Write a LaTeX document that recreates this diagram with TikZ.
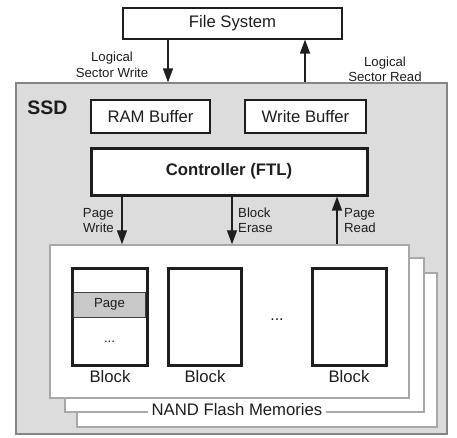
\documentclass[tikz,border=0pt]{standalone}
\usepackage{fontspec}
\setmainfont{Liberation Sans}
\usetikzlibrary{arrows.meta}
\definecolor{ink}{HTML}{1E1E1E}
\definecolor{ssdfill}{HTML}{DCDCDD}
\definecolor{ssdline}{HTML}{858585}
\definecolor{boardline}{HTML}{A8A8A8}
\definecolor{pagefill}{HTML}{C8C8C8}
\tikzset{
  big/.style={font=\fontsize{16.7}{19}\selectfont, text=ink},
  small/.style={font=\fontsize{13.2}{15.5}\selectfont, text=ink, align=center, inner sep=0pt},
  plainbox/.style={draw=ink, line width=1.1pt, fill=white, big, inner sep=0pt},
  board/.style={draw=boardline, line width=1.5pt, fill=white, inner sep=0pt},
  blockbox/.style={draw=ink, line width=3pt, fill=white, inner sep=0pt},
  arr/.style={draw=ink, line width=1.4pt, -{Triangle[length=14pt,width=10pt]}},
}
\begin{document}
\begin{tikzpicture}[x=1pt,y=-1pt]
\useasboundingbox (0,0) rectangle (457,437);
% SSD container
\node[draw=ssdline, line width=1.2pt, fill=ssdfill, minimum width=431pt, minimum height=351pt, inner sep=0pt] (ssd) at (231.5,258.5) {};
\node[font=\fontsize{19.5}{22}\selectfont\bfseries, text=ink, inner sep=0pt] (ssdlabel) at (47.5,108) {SSD};
% File system
\node[plainbox, minimum width=219pt, minimum height=31pt] (fs) at (232.5,23.5) {File System};
% buffers
\node[plainbox, minimum width=119pt, minimum height=33pt] (ram) at (150.5,116.5) {RAM Buffer};
\node[plainbox, minimum width=121pt, minimum height=33pt] (wb) at (305.5,116.5) {Write Buffer};
% controller
\node[draw=ink, line width=3pt, fill=white, big, font=\fontsize{16.7}{19}\selectfont\bfseries, minimum width=276pt, minimum height=47pt, inner sep=0pt] (ctrl) at (229,171.5) {Controller (FTL)};
% boards
\node[board, minimum width=360pt, minimum height=154pt] (board3) at (257,350) {};
\node[board, minimum width=359pt, minimum height=154pt] (board2) at (244.5,335) {};
\node[fill=white, big, inner xsep=4pt, inner ysep=1pt] (nand) at (237,410) {NAND Flash Memories};
\node[board, minimum width=359pt, minimum height=153pt] (board1) at (229.5,321.5) {};
% blocks
\node[blockbox, minimum width=75pt, minimum height=97pt] (blk1) at (109.5,316.5) {};
\node[blockbox, minimum width=73pt, minimum height=97pt] (blk2) at (204.5,316.5) {};
\node[blockbox, minimum width=74pt, minimum height=97pt] (blk3) at (349,316.5) {};
\node[draw=ink!85, line width=1pt, fill=pagefill, minimum width=72pt, minimum height=25pt, inner sep=0pt, small] (page) at (109.5,304.5) {Page};
\node[small] (dots1) at (109.5,342) {...};
\node[small, font=\fontsize{16}{19}\selectfont] (dots2) at (277,320) {...};
\node[big, inner sep=0pt] (bl1) at (110,377) {Block};
\node[big, inner sep=0pt] (bl2) at (205,377) {Block};
\node[big, inner sep=0pt] (bl3) at (349,377) {Block};
% arrows
\coordinate (xw) at (168,0);
\coordinate (xr) at (305,0);
\draw[arr] (fs.south -| xw) -- (ssd.north -| xw);
\draw[arr] (ssd.north -| xr) -- (fs.south -| xr);
\coordinate (xpw) at (122,0);
\coordinate (xbe) at (232,0);
\coordinate (xpr) at (337,0);
\draw[arr] (ctrl.south -| xpw) -- (board1.north -| xpw);
\draw[arr] (ctrl.south -| xbe) -- (board1.north -| xbe);
\draw[arr] (board1.north -| xpr) -- (ctrl.south -| xpr);
% labels
\node[small] (lsw) at (112,65) {Logical\\Sector Write};
\node[small] (lsr) at (385,69.5) {Logical\\Sector Read};
\node[small, align=right, anchor=east] (pw) at (114,220.5) {Page\\Write};
\node[small, align=left, anchor=west] (be) at (238,220.5) {Block\\Erase};
\node[small, align=left, anchor=west] (pr) at (344,220.5) {Page\\Read};
\end{tikzpicture}
\end{document}
